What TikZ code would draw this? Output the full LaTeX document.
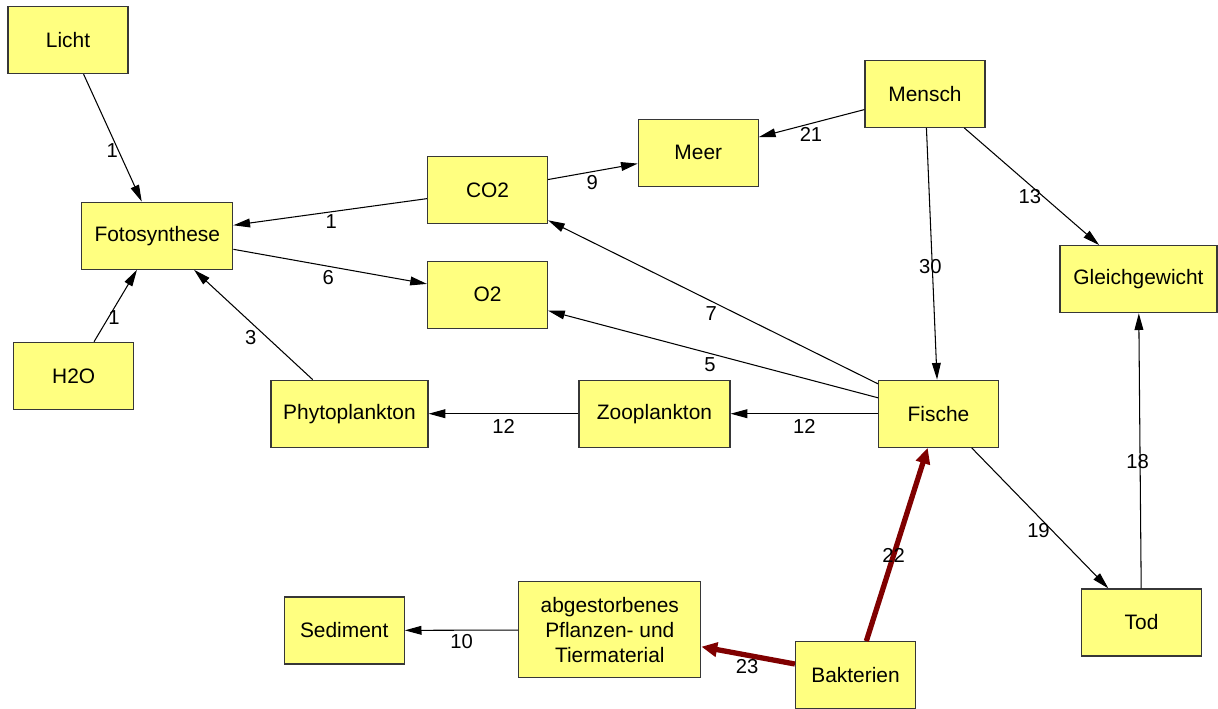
\documentclass[tikz,border=0pt]{standalone}
\usepackage{fontspec}
\setmainfont{Liberation Sans}
\usepackage{tikz}
\usetikzlibrary{arrows.meta}
\definecolor{boxfill}{RGB}{255,255,128}
\definecolor{boxline}{RGB}{55,55,55}
\definecolor{flowred}{RGB}{128,0,0}
\tikzset{
  box/.style={rectangle, draw=boxline, fill=boxfill, line width=0.7pt,
    minimum width=2.4cm, minimum height=1.34cm, inner sep=2pt,
    align=center, font=\fontsize{11.9}{14.2}\selectfont},
  arrow/.style={-{Triangle[length=9.5pt,width=5pt]}, line width=0.6pt, color=black},
  redarrow/.style={-{Triangle[length=9pt,width=8pt]}, line width=3pt, color=flowred},
  lbl/.style={font=\fontsize{11.5}{13}\selectfont, inner sep=0pt, text=black}
}

\begin{document}
\begin{tikzpicture}[x=0.02cm, y=-0.02cm]
  \useasboundingbox (0,0) rectangle (1218,708);

  % Boxes
  \node[box] (licht) at (68,40) {Licht};
  \node[box, minimum width=3.02cm] (foto) at (157.3,235.7) {Fotosynthese};
  \node[box] (h2o) at (73.7,375.8) {H2O};
  \node[box] (co2) at (487.5,190.3) {CO2};
  \node[box] (meer) at (698.3,152.8) {Meer};
  \node[box] (mensch) at (925,93.8) {Mensch};
  \node[box] (o2) at (487.5,294.7) {O2};
  \node[box, minimum width=3.14cm] (gleich) at (1138.5,279.2) {Gleichgewicht};
  \node[box, minimum width=3.14cm] (phyto) at (349.5,413.7) {Phytoplankton};
  \node[box, minimum width=3.02cm] (zoo) at (654.5,413.7) {Zooplankton};
  \node[box] (fische) at (938.5,413.7) {Fische};
  \node[box] (tod) at (1141.5,622.5) {Tod};
  \node[box] (sediment) at (344.2,630.5) {Sediment};
  \node[box, minimum width=3.64cm, minimum height=1.92cm] (totmat) at (609.8,629.8) {abgestorbenes\\Pflanzen- und\\Tiermaterial};
  \node[box] (bakt) at (855.5,675.2) {Bakterien};

  % Flows
  \draw[arrow] (licht) -- node[lbl, pos=.58, shift={(-5,2)}] {1} (foto);
  \draw[arrow] (h2o) -- node[lbl, pos=.37, shift={(4,2.5)}] {1} (foto);
  \draw[arrow] (phyto) -- node[lbl, pos=.46, shift={(-7.5,8)}] {3} (foto);
  \draw[arrow] (co2) -- node[lbl, pos=.5, shift={(1,10)}] {1} (foto);
  \draw[arrow] (foto) -- node[lbl, pos=.5, shift={(-2,11)}] {6} (o2);
  \draw[arrow] (co2) -- node[lbl, pos=.47, shift={(2,11)}] {9} (meer);
  \draw[arrow] (mensch) -- node[lbl, pos=.53, shift={(2.5,10)}] {21} (meer);
  \draw[arrow] (mensch) -- node[lbl, pos=.53, shift={(-6,6.5)}] {13} (gleich);
  \draw[arrow] (mensch) -- node[lbl, pos=.55, shift={(-2,0)}] {30} (fische);
  \draw[arrow] (fische) -- node[lbl, pos=.49, shift={(-5,9.5)}] {7} (co2);
  \draw[arrow] (fische) -- node[lbl, pos=.5, shift={(-3,10.5)}] {5} (o2);
  \draw[arrow] (fische) -- node[lbl, pos=.5, shift={(0,12.5)}] {12} (zoo);
  \draw[arrow] (zoo) -- node[lbl, pos=.5, shift={(0,13)}] {12} (phyto);
  \draw[arrow] (fische) -- node[lbl, pos=.54, shift={(-7,7)}] {19} (tod);
  \draw[arrow] (tod) -- node[lbl, pos=.46, shift={(-2.5,0)}] {18} (gleich);
  \draw[arrow] (totmat) -- node[lbl, pos=.5, shift={(0,11)}] {10} (sediment);

  % Bacteria flows
  \draw[redarrow] (bakt) -- node[lbl, pos=.445] {22} (fische);
  \draw[redarrow] (bakt) -- node[lbl, pos=.49, shift={(-2,11)}] {23} (totmat);
\end{tikzpicture}
\end{document}
